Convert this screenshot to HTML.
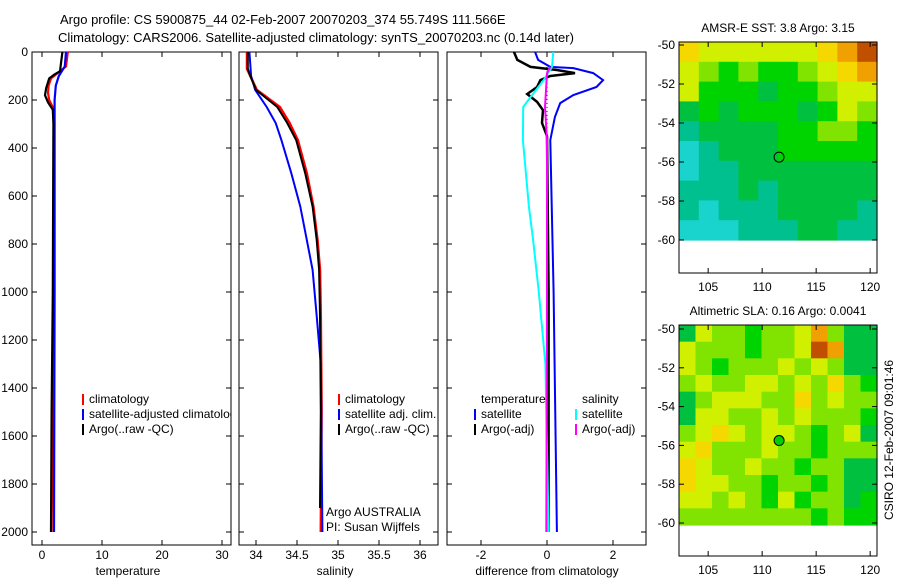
<!DOCTYPE html>
<html><head><meta charset="utf-8"><style>
body{margin:0;background:#fff}
svg{display:block;font-family:"Liberation Sans",sans-serif;font-size:12px}
</style></head><body>
<svg id="c" width="900" height="580" xmlns="http://www.w3.org/2000/svg">
<defs><clipPath id="cp1"><rect x="32" y="52" width="199" height="493"/></clipPath>
<clipPath id="cp2"><rect x="239" y="52" width="199" height="493"/></clipPath>
<clipPath id="cp3"><rect x="447" y="52" width="199" height="493"/></clipPath></defs>
<text x="60" y="24" font-size="13">Argo profile: CS 5900875_44 02-Feb-2007 20070203_374 55.749S 111.566E</text>
<text x="58" y="42" font-size="13">Climatology: CARS2006. Satellite-adjusted climatology: synTS_20070203.nc (0.14d later)</text>
<g id="g"></g>
</svg>
<script>
// ---- data ----
const tClimD=[0,60,90,110,140,170,200,230,300,1000,1500,2000];
const tClimV=[4.3,4.0,2.5,1.5,1.1,1.0,1.2,1.8,2.0,1.9,1.8,1.6];
const tArgoD=[0,80,95,110,150,180,210,240,300,1000,1500,2000];
const tArgoV=[3.4,3.0,2.0,1.2,0.7,0.5,1.0,1.8,1.9,1.8,1.6,1.5];
const tSatD=[0,60,100,140,200,1000,2000];
const tSatV=[4.0,3.8,2.8,2.3,2.1,2.1,2.0];
const sClimD=[0,70,100,158,229,296,367,505,644,783,908,1100,1500,2000];
const sClimV=[33.89,33.89,33.93,34.01,34.29,34.41,34.51,34.62,34.70,34.75,34.78,34.79,34.80,34.79];
const sArgoD=[0,70,100,158,229,296,367,505,644,783,908,1100,1500,1900];
const sArgoV=[33.9,33.9,33.93,34.0,34.26,34.38,34.49,34.60,34.69,34.74,34.77,34.78,34.79,34.78];
const sSatD=[0,100,158,229,296,367,505,644,783,908,1100,1300,2000];
const sSatV=[33.92,33.94,33.99,34.13,34.24,34.31,34.43,34.54,34.62,34.69,34.74,34.79,34.81];
const dTSatD=[0,33,62,67,88,117,146,179,213,271,367,1000,2000];
const dTSatV=[-0.36,-0.27,0.1,0.8,1.4,1.7,1.5,0.8,0.4,0.24,0.1,0.2,0.3];
const dTArgD=[0,33,62,75,88,100,117,146,175,208,242,296,350,1000,2000];
const dTArgV=[-1.0,-0.9,-0.5,0.3,0.85,0.1,-0.2,-0.3,-0.6,-0.3,-0.12,-0.15,0.0,0.05,0.05];
const dSSatD=[0,62,117,188,229,367,505,644,783,1000,1300,2000];
const dSSatV=[0.19,0.15,-0.1,-0.5,-0.72,-0.73,-0.64,-0.55,-0.42,-0.25,-0.05,0.05];
const dSArgD=[62,88,229,367,1000,2000];
const dSArgV=[0.1,0.0,-0.06,0.0,0.0,-0.02];
const depthTicks=[0,200,400,600,800,1000,1200,1400,1600,1800,2000];
const tTicks=[0,10,20,30];
const sTicks=[34,34.5,35,35.5,36];
const dTicks=[-2,0,2];
const lonTicks=[105,110,115,120];
const latTicks=[-50,-52,-54,-56,-58,-60];
const palette=['#18d4cc','#00c090','#00c040','#00d400','#80e400','#d0f000','#f4d800','#f0a000','#c05000'];
const sstGrid=["6555555678","5434334567","5333233455","2323332354","1222233443","0122233333","0112222222","1112122222","1011122221","0001112211"];
const slaGrid=["254434457422","544434458722","543444545422","454455454643","245554464544","255445454443","456545543452","564445443444","654454434422","655443443422","554543534423","444444443433"];
const floatLon=111.566, floatLat=-55.749;
// ---- helpers ----
const NS="http://www.w3.org/2000/svg";
const G=document.getElementById('g');
function el(t,a,p){const e=document.createElementNS(NS,t);for(const k in a)e.setAttribute(k,a[k]);(p||G).appendChild(e);return e;}
const yD=d=>52+d*0.24;
const xT=v=>42+v*6.0;
const xS=v=>256+(v-34)*82;
const xDf=v=>547+v*33;
const xLon=l=>679+(l-102.3)*10.8;
function panel(x0,name,ticks,xf,labelDepth){
  const r=el('rect',{x:x0,y:52,width:199,height:493,fill:'none',stroke:'#000','stroke-width':1});
  
  
  depthTicks.forEach(d=>{
    el('line',{x1:x0,x2:x0+5,y1:yD(d),y2:yD(d),stroke:'#000'});
    el('line',{x1:x0+199,x2:x0+194,y1:yD(d),y2:yD(d),stroke:'#000'});
    if(labelDepth){const t=el('text',{x:x0-4,y:yD(d)+4,'text-anchor':'end'});t.textContent=d;
      
      }
  });
  ticks.forEach(v=>{const x=xf(v);
    el('line',{x1:x,x2:x,y1:52,y2:57,stroke:'#000'});
    el('line',{x1:x,x2:x,y1:545,y2:540,stroke:'#000'});
    const t=el('text',{x:x,y:559,'text-anchor':'middle'});t.textContent=v;
    
    
  });
}
function line(D,V,xf,col,w,clip,name,dash){
  const pts=D.map((d,i)=>xf(V[i]).toFixed(1)+','+yD(d).toFixed(1)).join(' ');
  const a={points:pts,fill:'none',stroke:col,'stroke-width':w,'clip-path':'url(#'+clip+')'};
  if(dash)a['stroke-dasharray']=dash;
  const p=el('polyline',a);
  
  
}
function txt(x,y,s,name,anchor){const t=el('text',{x:x,y:y,'text-anchor':anchor||'start'});t.textContent=s;
  
  return t;}
function leg(x,y,col,s,clip){
  if(col){const r=el('rect',{x:x,y:y-9,width:2,height:11,fill:col});
    
    }
  const t=txt(x+7,y,s,'legend-entry');if(clip)t.setAttribute('clip-path','url(#'+clip+')');
}
// panels
panel(32,'temperature-panel',tTicks,xT,true);
panel(239,'salinity-panel',sTicks,xS,false);
panel(447,'difference-panel',dTicks,xDf,false);
line(tClimD,tClimV,xT,'#f00',2.2,'cp1','temp-climatology-line');
line(tSatD,tSatV,xT,'#00f',2.2,'cp1','temp-satellite-line');
line(tArgoD,tArgoV,xT,'#000',2.2,'cp1','temp-argo-line');
line(sClimD,sClimV,xS,'#f00',2.5,'cp2','sal-climatology-line');
line(sSatD,sSatV,xS,'#00f',2,'cp2','sal-satellite-line');
line(sArgoD,sArgoV,xS,'#000',2,'cp2','sal-argo-line');
line([62,350],[0,0],xDf,'#000',1,'cp3','zero-reference-line','1,3');
line(dTSatD,dTSatV,xDf,'#00f',2,'cp3','temp-satellite-diff-line');
line(dTArgD,dTArgV,xDf,'#000',2.5,'cp3','temp-argo-diff-line');
line(dSSatD,dSSatV,xDf,'#0ff',2,'cp3','sal-satellite-diff-line');
line(dSArgD,dSArgV,xDf,'#f0f',2,'cp3','sal-argo-diff-line');
// labels
txt(128,575,'temperature','x-axis-title-temperature','middle');
txt(335,575,'salinity','x-axis-title-salinity','middle');
txt(547,575,'difference from climatology','x-axis-title-difference','middle');
leg(82,403,'#f00','climatology');
leg(82,418,'#00f','satellite-adjusted climatology','cp1');
leg(82,433,'#000','Argo(..raw -QC)');
leg(338,403,'#f00','climatology');
leg(338,418,'#00f','satellite adj. clim.');
leg(338,433,'#000','Argo(..raw -QC)');
txt(481,403,'temperature','legend-header-temperature');
leg(474,418,'#00f','satellite');
leg(474,433,'#000','Argo(-adj)');
txt(582,403,'salinity','legend-header-salinity');
leg(575,418,'#0ff','satellite');
leg(575,433,'#f0f','Argo(-adj)');
txt(326,516,'Argo AUSTRALIA','argo-australia-label');
txt(326,531,'PI: Susan Wijffels','pi-label');
// maps
function map(top,dataBot,grid,title,name,filled,lat50,latStep){
  const rows=grid.length,cols=grid[0].length;
  const cw=198/cols,ch=(dataBot-top)/rows;
  grid.forEach((row,r)=>{for(let c=0;c<cols;c++){
    const cell=el('rect',{x:(679+c*cw).toFixed(2),y:(top+r*ch).toFixed(2),width:(cw+0.6).toFixed(2),height:(ch+0.6).toFixed(2),fill:palette[+row[c]]});
    
    
  }});
  const f=el('rect',{x:679,y:top,width:198,height:231,fill:'none',stroke:'#000'});
  
  
  const latY=l=>lat50+(-50-l)*latStep;
  latTicks.forEach(l=>{const y=latY(l);
    el('line',{x1:679,x2:684,y1:y,y2:y,stroke:'#000'});el('line',{x1:877,x2:872,y1:y,y2:y,stroke:'#000'});
    txt(675,y+4,l,name+'-lat-label','end');});
  lonTicks.forEach(l=>{const x=xLon(l);
    el('line',{x1:x,x2:x,y1:top,y2:top+5,stroke:'#000'});el('line',{x1:x,x2:x,y1:top+231,y2:top+226,stroke:'#000'});
    txt(x,top+249,l,name+'-lon-label','middle');});
  txt(778,top-10,title,name+'-title','middle');
  const c=el('circle',{cx:xLon(floatLon),cy:latY(floatLat),r:5,fill:filled?'#00d000':'none',stroke:'#000','stroke-width':1});
  
  
}
map(42,240,sstGrid,'AMSR-E SST: 3.8 Argo: 3.15','sst-map',false,45,19.5);
map(325,525,slaGrid,'Altimetric SLA: 0.16 Argo: 0.0041','sla-map',true,329,19.4);
const cs=txt(0,0,'CSIRO 12-Feb-2007 09:01:46','timestamp-label','middle');
cs.setAttribute('transform','translate(893,440) rotate(-90)');
</script>
</body></html>
